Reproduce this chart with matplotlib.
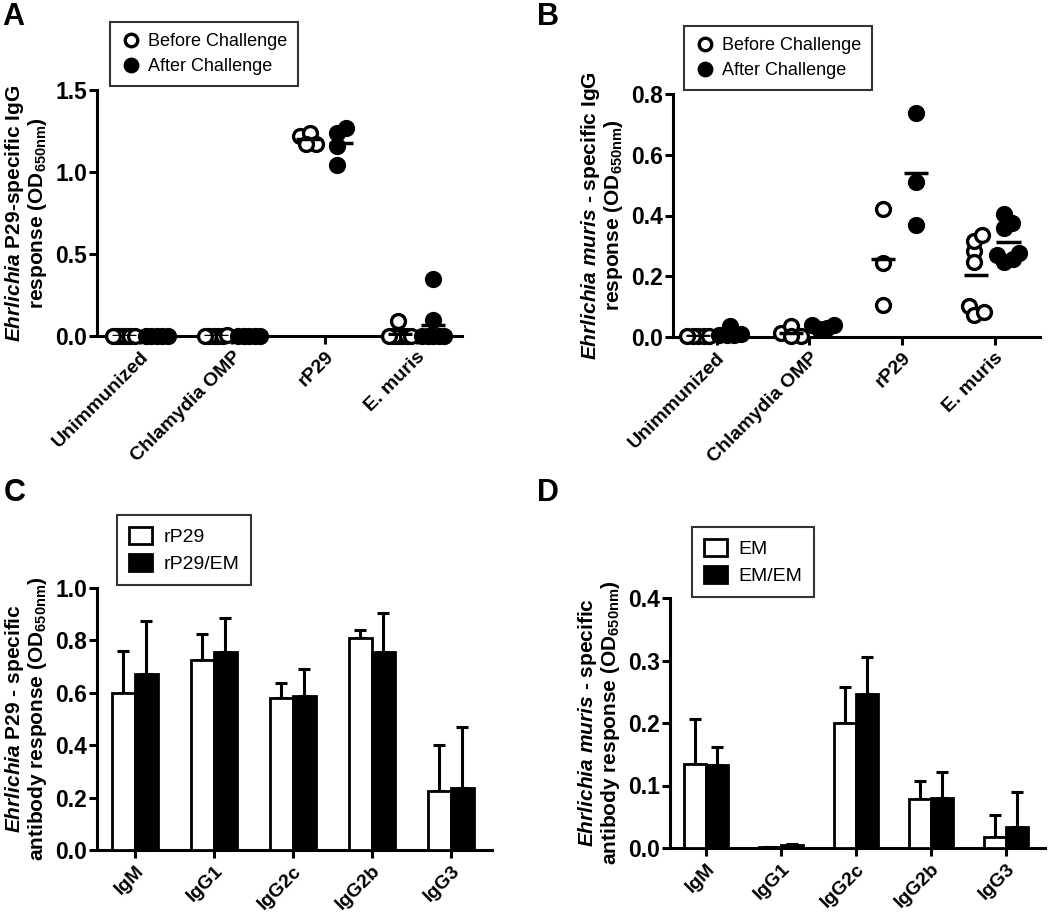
import numpy as np
import matplotlib
matplotlib.use('Agg')
from matplotlib import pyplot as plt
from matplotlib.lines import Line2D
from matplotlib.patches import Patch

plt.rcParams['font.family'] = ['Liberation Sans', 'DejaVu Sans']
plt.rcParams['mathtext.fontset'] = 'custom'
plt.rcParams['mathtext.rm'] = 'Liberation Sans:bold'
plt.rcParams['mathtext.it'] = 'Liberation Sans:bold:italic'
plt.rcParams['mathtext.bf'] = 'Liberation Sans:bold'

# ---- data ----
groups = ['Unimmunized', 'Chlamydia OMP', 'rP29', 'E. muris']
a_before = [[0, 0, 0, 0, 0, 0], [0, 0, 0, 0, 0, 0.005], [1.22, 1.24, 1.17, 1.17],
            [0.09, 0, 0, 0, 0, 0, 0]]
a_after = [[0, 0, 0, 0, 0], [0, 0, 0, 0, 0], [1.24, 1.27, 1.16, 1.04],
           [0.35, 0.10, 0, 0, 0, 0, 0]]
b_before = [[0.003, 0.003, 0.003, 0.003, 0.003], [0.013, 0.036, 0.003, 0.003],
            [0.42, 0.245, 0.105], [0.283, 0.316, 0.336, 0.247, 0.102, 0.072, 0.082]]
b_after = [[0.005, 0.005, 0.035, 0.01, 0.005], [0.04, 0.04, 0.03, 0.027],
           [0.738, 0.51, 0.369], [0.376, 0.36, 0.405, 0.277, 0.247, 0.257, 0.27]]

isotypes = ['IgM', 'IgG1', 'IgG2c', 'IgG2b', 'IgG3']
c_rp29 = [0.60, 0.727, 0.581, 0.81, 0.225]
c_rp29_sd = [0.16, 0.097, 0.056, 0.03, 0.175]
c_rp29em = [0.672, 0.756, 0.588, 0.756, 0.236]
c_rp29em_sd = [0.202, 0.129, 0.102, 0.149, 0.233]
d_em = [0.134, 0.002, 0.2, 0.078, 0.018]
d_em_sd = [0.072, 0.0, 0.057, 0.029, 0.035]
d_emem = [0.133, 0.005, 0.247, 0.08, 0.033]
d_emem_sd = [0.028, 0.002, 0.058, 0.042, 0.057]

W, H = 1050, 916
fig = plt.figure(figsize=(W / 100, H / 100), dpi=100)


def place(l, t, r, b):
    ax = fig.add_axes([l / W, 1 - b / H, (r - l) / W, (b - t) / H])
    return ax


def style(ax, ylim, yticks, w_px):
    ax.set_ylim(*ylim)
    ax.set_yticks(yticks)
    ax.set_yticklabels(['%.1f' % v for v in yticks])
    for s in ['top', 'right']:
        ax.spines[s].set_visible(False)
    for s in ['left', 'bottom']:
        ax.spines[s].set_linewidth(2.2)
    ax.tick_params(width=2.2, length=6)
    ax.tick_params(axis='y', labelsize=16.5, pad=1)
    ax.tick_params(axis='x', labelsize=14, pad=3)
    for lab in ax.get_yticklabels() + ax.get_xticklabels():
        lab.set_fontweight('bold')
    ax.yaxis.set_label_coords(-71 / w_px, 0.5)


def swarm(vals, w_px, h_px, xr, yr, d=10.0, maxw=22.0):
    # simple beeswarm: offsets in px, then converted to data units
    order = np.argsort(vals)
    ypx = np.array(vals) * h_px / yr
    placed = []
    offs = np.zeros(len(vals))
    for i in order:
        cands = [0.0]
        for k in range(1, 80):
            cands += [k * 1.0, -k * 1.0]
        for c in cands:
            ok = True
            for (px, py) in placed:
                if (c - px) ** 2 + (ypx[i] - py) ** 2 < d * d:
                    ok = False
                    break
            if ok:
                break
        placed.append((c, ypx[i]))
        offs[i] = c
    ext = offs.max() - offs.min()
    if ext > maxw:
        offs = offs * maxw / ext
    offs = offs - (offs.max() + offs.min()) / 2
    return offs * xr / w_px


def dot_panel(ax, before, after, ylim, box, offb, offa):
    l, t, r, b = box
    w_px, h_px = r - l, b - t
    xl = (-0.47, 3.49)
    ax.set_xlim(*xl)
    xr = xl[1] - xl[0]
    for i in range(len(groups)):
        for vals, off, filled in [(before[i], offb, False), (after[i], offa, True)]:
            xo = swarm(vals, w_px, h_px, xr, ylim[1] - ylim[0])
            ax.scatter(i + off + xo, vals, s=100, marker='o',
                       facecolor='black' if filled else 'white',
                       edgecolor='black', linewidth=2.4, zorder=3, clip_on=False)
            m = np.mean(vals)
            ax.hlines(m, i + off - 0.13, i + off + 0.13, color='black', lw=2.5, zorder=4)
    ax.set_xticks(range(len(groups)))
    ax.set_xticklabels(groups, rotation=45, ha='right', rotation_mode='anchor')


def bar_panel(ax, v1, e1, v2, e2):
    x = np.arange(len(isotypes))
    w = 0.29
    ax.set_xlim(-0.48, 4.52)
    ax.bar(x - w / 2, v1, w, color='white', edgecolor='black', linewidth=2, zorder=3)
    ax.bar(x + w / 2, v2, w, color='black', edgecolor='black', linewidth=2, zorder=3)
    ax.errorbar(x - w / 2, v1, yerr=[np.zeros(len(v1)), e1], fmt='none', ecolor='black',
                elinewidth=2.2, capsize=4.5, capthick=2.2, zorder=2)
    ax.errorbar(x + w / 2, v2, yerr=[np.zeros(len(v2)), e2], fmt='none', ecolor='black',
                elinewidth=2.2, capsize=4.5, capthick=2.2, zorder=2)
    ax.set_xticks(x)
    ax.set_xticklabels(isotypes, rotation=45, ha='right', rotation_mode='anchor')


ylab_kw = dict(fontsize=15, fontweight='bold', va='center', linespacing=1.05)

# Panel A
boxA = (97, 90, 462, 336)
axA = place(*boxA)
dot_panel(axA, a_before, a_after, (0, 1.5), boxA, -0.18, 0.18)
style(axA, (0, 1.5), [0, 0.5, 1.0, 1.5], boxA[2] - boxA[0])
axA.set_ylabel(r'$\mathit{Ehrlichia}$ P29-specific IgG' + '\n' + r'response (OD$_{\mathrm{650nm}}$)',
               **ylab_kw)

# Panel B
boxB = (673, 94, 1040, 337)
axB = place(*boxB)
dot_panel(axB, b_before, b_after, (0, 0.8), boxB, -0.2, 0.15)
style(axB, (0, 0.8), [0, 0.2, 0.4, 0.6, 0.8], boxB[2] - boxB[0])
axB.set_ylabel(r'$\mathit{Ehrlichia\ muris}$ - specific IgG' + '\n' + r'response (OD$_{\mathrm{650nm}}$)',
               **ylab_kw)

# Panel C
boxC = (97, 588, 492, 850)
axC = place(*boxC)
bar_panel(axC, c_rp29, c_rp29_sd, c_rp29em, c_rp29em_sd)
style(axC, (0, 1.0), [0, 0.2, 0.4, 0.6, 0.8, 1.0], boxC[2] - boxC[0])
axC.set_ylabel(r'$\mathit{Ehrlichia}$ P29 - specific' + '\n' + r'antibody response (OD$_{\mathrm{650nm}}$)',
               **ylab_kw)

# Panel D
boxD = (670, 598, 1045, 848)
axD = place(*boxD)
bar_panel(axD, d_em, d_em_sd, d_emem, d_emem_sd)
style(axD, (0, 0.4), [0, 0.1, 0.2, 0.3, 0.4], boxD[2] - boxD[0])
axD.set_ylabel(r'$\mathit{Ehrlichia\ muris}$ - specific' + '\n' + r'antibody response (OD$_{\mathrm{650nm}}$)',
               **ylab_kw)

# legends
dot_handles = [Line2D([], [], ls='none', marker='o', ms=9, mfc='white', mec='black', mew=2.4),
               Line2D([], [], ls='none', marker='o', ms=9, mfc='black', mec='black', mew=2.4)]
dot_labels = ['Before Challenge', 'After Challenge']
for (x0, y1) in [(110, 86), (684, 90)]:
    leg = fig.legend(dot_handles, dot_labels, loc='lower left', bbox_to_anchor=(x0 / W, 1 - y1 / H),
                     borderaxespad=0, fancybox=False, edgecolor='black', fontsize=13,
                     handletextpad=0.4, labelspacing=0.45, borderpad=0.6, handlelength=1.1)
    leg.get_frame().set_linewidth(1.5)

for (x0, y1, labs) in [(117, 585, ['rP29', 'rP29/EM']), (692, 597, ['EM', 'EM/EM'])]:
    hs = [Patch(facecolor='white', edgecolor='black', linewidth=2),
          Patch(facecolor='black', edgecolor='black', linewidth=2)]
    leg = fig.legend(hs, labs, loc='lower left', bbox_to_anchor=(x0 / W, 1 - y1 / H),
                     borderaxespad=0, fancybox=False, edgecolor='black', fontsize=14,
                     handletextpad=0.6, labelspacing=0.4, borderpad=0.6,
                     handlelength=1.2, handleheight=1.0)
    leg.get_frame().set_linewidth(1.5)

# panel letters
for (px, py, s) in [(2, 2, 'A'), (537, 2, 'B'), (4, 478, 'C'), (537, 478, 'D')]:
    fig.text(px / W, 1 - py / H, s, fontsize=22, fontweight='bold', va='top', ha='left')

fig.savefig('out.png', dpi=100)
